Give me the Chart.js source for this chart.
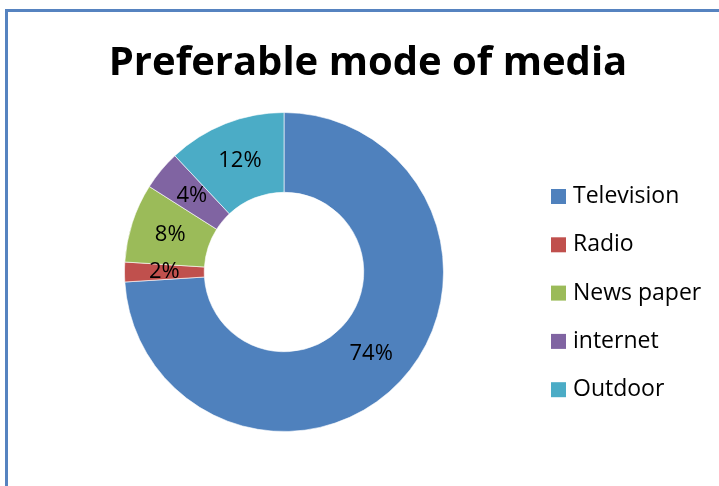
<!DOCTYPE html>
<html>
<head>
<meta charset="utf-8">
<script src="https://cdn.jsdelivr.net/npm/chart.js@4/dist/chart.umd.min.js"></script>
<style>
  html, body { margin: 0; padding: 0; background: #fff; }
  canvas { display: block; }
</style>
</head>
<body>
<canvas id="c" width="719" height="486"></canvas>
<script>
// Survey shares of the preferred media channel (percent)
const categories = ['Television', 'Radio', 'News paper', 'internet', 'Outdoor'];
const shares = [74, 2, 8, 4, 12];
const sliceColors = ['#4f81bd', '#c0504d', '#9bbb59', '#8064a2', '#4bacc6'];
const chartTitle = 'Preferable mode of media';

const FONT = '"Open Sans", "Noto Sans", sans-serif';

// Frame lines along the left and top of the chart panel
const framePlugin = {
  id: 'frame',
  beforeDraw(chart) {
    const ctx = chart.ctx;
    ctx.save();
    ctx.fillStyle = '#5683c0';
    ctx.fillRect(5, 9, 3, chart.height - 9);
    ctx.fillRect(5, 9, chart.width - 5, 3);
    ctx.restore();
  }
};

// Title text above the ring
const titlePlugin = {
  id: 'bigTitle',
  afterDraw(chart) {
    const ctx = chart.ctx;
    ctx.save();
    ctx.font = 'bold 40px ' + FONT;
    ctx.fillStyle = '#000';
    ctx.textAlign = 'center';
    ctx.textBaseline = 'alphabetic';
    ctx.fillText(chartTitle, 368, 75);
    ctx.restore();
  }
};

// Percent labels at the middle of each slice
const sliceLabelPlugin = {
  id: 'sliceLabels',
  afterDatasetsDraw(chart) {
    const ctx = chart.ctx;
    const meta = chart.getDatasetMeta(0);
    const values = chart.data.datasets[0].data;
    ctx.save();
    ctx.font = '22px ' + FONT;
    ctx.fillStyle = '#000';
    ctx.textAlign = 'center';
    ctx.textBaseline = 'middle';
    meta.data.forEach((arc, i) => {
      const p = arc.tooltipPosition();
      ctx.fillText(values[i] + '%', p.x, p.y);
    });
    ctx.restore();
  }
};

// Legend listed to the right of the ring
const sideLegendPlugin = {
  id: 'sideLegend',
  afterDraw(chart) {
    const ctx = chart.ctx;
    const labels = chart.data.labels;
    const colors = chart.data.datasets[0].backgroundColor;
    const x0 = 551, y0 = 196.5, step = 48.3, box = 15;
    ctx.save();
    ctx.font = '23px ' + FONT;
    ctx.textAlign = 'left';
    ctx.textBaseline = 'middle';
    labels.forEach((lab, i) => {
      const cy = y0 + i * step;
      ctx.fillStyle = colors[i];
      ctx.fillRect(x0, cy - box / 2, box, box);
      ctx.fillStyle = '#000';
      ctx.fillText(lab, x0 + 22, cy);
    });
    ctx.restore();
  }
};

new Chart(document.getElementById('c'), {
  type: 'doughnut',
  data: {
    labels: categories,
    datasets: [{
      data: shares,
      backgroundColor: sliceColors,
      borderColor: 'rgba(255,255,255,0.6)',
      borderWidth: 1
    }]
  },
  options: {
    responsive: false,
    animation: false,
    cutout: '50%',
    rotation: 0,
    layout: { padding: { left: 124, right: 275, top: 112, bottom: 54 } },
    plugins: {
      legend: { display: false },
      title: { display: false },
      tooltip: { enabled: false }
    }
  },
  plugins: [framePlugin, sliceLabelPlugin, titlePlugin, sideLegendPlugin]
});
</script>
</body>
</html>
